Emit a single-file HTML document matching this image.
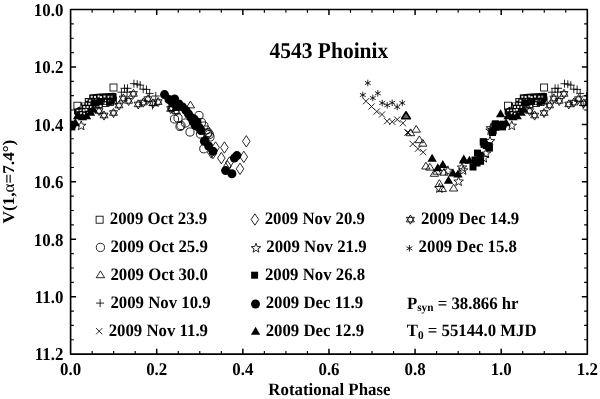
<!DOCTYPE html><html><head><meta charset="utf-8"><style>
html,body{margin:0;padding:0;background:#fff;width:600px;height:399px;overflow:hidden}
svg{display:block;will-change:transform}
text{font-family:"Liberation Serif", serif;font-weight:bold;fill:#000;text-rendering:geometricPrecision}
.o{fill:none;stroke:#000;stroke-width:0.85}
.f{fill:#000;stroke:none}
.ax{fill:none;stroke:#000;stroke-width:1.65;stroke-linejoin:round}
.tk{stroke:#000;stroke-width:1.5}
</style></head><body>
<svg width="600" height="399" viewBox="0 0 600 399">
<defs><clipPath id="cp"><rect x="70.60" y="9.50" width="516.72" height="344.64"/></clipPath></defs>
<g clip-path="url(#cp)">
<path d="M74.0 108.5L76.0 108.5L80.5 106.0L81.0 102.4L85.2 102.4L85.2 98.4L89.2 98.4L89.2 94.4L100.0 93.6L113.7 92.8L116.5 93.2L116.5 100.0L114.0 104.0L110.0 105.2L101.6 104.8L95.2 107.2L91.2 112.0L88.0 116.0L76.0 116.0L74.0 114.0Z" fill="#000"/>
<rect x="90.7" y="95.8" width="2" height="2" fill="#e8e8e8"/>
<rect x="94.0" y="95.9" width="2" height="2" fill="#e8e8e8"/>
<rect x="97.6" y="95.4" width="2" height="2" fill="#e8e8e8"/>
<rect x="100.0" y="96.1" width="2" height="2" fill="#e8e8e8"/>
<rect x="103.5" y="95.5" width="2" height="2" fill="#e8e8e8"/>
<rect x="107.6" y="95.8" width="2" height="2" fill="#e8e8e8"/>
<rect x="110.6" y="95.8" width="2" height="2" fill="#e8e8e8"/>
<rect x="85.6" y="98.9" width="2" height="2" fill="#e8e8e8"/>
<rect x="88.8" y="99.6" width="2" height="2" fill="#e8e8e8"/>
<rect x="91.8" y="99.4" width="2" height="2" fill="#e8e8e8"/>
<rect x="95.2" y="98.8" width="2" height="2" fill="#e8e8e8"/>
<rect x="98.5" y="99.3" width="2" height="2" fill="#e8e8e8"/>
<rect x="101.2" y="98.7" width="2" height="2" fill="#e8e8e8"/>
<rect x="105.0" y="99.2" width="2" height="2" fill="#e8e8e8"/>
<rect x="108.1" y="99.6" width="2" height="2" fill="#e8e8e8"/>
<rect x="82.3" y="102.8" width="2" height="2" fill="#e8e8e8"/>
<rect x="85.1" y="102.7" width="2" height="2" fill="#e8e8e8"/>
<rect x="88.3" y="102.8" width="2" height="2" fill="#e8e8e8"/>
<rect x="92.1" y="102.0" width="2" height="2" fill="#e8e8e8"/>
<rect x="94.4" y="102.1" width="2" height="2" fill="#e8e8e8"/>
<rect x="98.6" y="102.3" width="2" height="2" fill="#e8e8e8"/>
<rect x="101.4" y="102.2" width="2" height="2" fill="#e8e8e8"/>
<rect x="104.4" y="102.3" width="2" height="2" fill="#e8e8e8"/>
<rect x="79.8" y="105.7" width="2" height="2" fill="#e8e8e8"/>
<rect x="83.3" y="106.0" width="2" height="2" fill="#e8e8e8"/>
<rect x="86.6" y="106.0" width="2" height="2" fill="#e8e8e8"/>
<rect x="90.0" y="106.1" width="2" height="2" fill="#e8e8e8"/>
<rect x="93.0" y="105.3" width="2" height="2" fill="#e8e8e8"/>
<rect x="96.4" y="106.1" width="2" height="2" fill="#e8e8e8"/>
<rect x="76.5" y="109.3" width="2" height="2" fill="#e8e8e8"/>
<rect x="79.5" y="108.9" width="2" height="2" fill="#e8e8e8"/>
<rect x="82.8" y="109.3" width="2" height="2" fill="#e8e8e8"/>
<rect x="85.3" y="108.8" width="2" height="2" fill="#e8e8e8"/>
<rect x="89.2" y="109.7" width="2" height="2" fill="#e8e8e8"/>
<rect x="76.5" y="112.8" width="2" height="2" fill="#e8e8e8"/>
<rect x="80.1" y="112.2" width="2" height="2" fill="#e8e8e8"/>
<rect x="83.2" y="112.8" width="2" height="2" fill="#e8e8e8"/>
<rect x="87.0" y="112.0" width="2" height="2" fill="#e8e8e8"/>
<path d="M504.6 108.5L506.6 108.5L511.1 106.0L511.6 102.4L515.8 102.4L515.8 98.4L519.8 98.4L519.8 94.4L530.6 93.6L544.3 92.8L547.1 93.2L547.1 100.0L544.6 104.0L540.6 105.2L532.2 104.8L525.8 107.2L521.8 112.0L518.6 116.0L506.6 116.0L504.6 114.0Z" fill="#000"/>
<rect x="521.3" y="95.8" width="2" height="2" fill="#e8e8e8"/>
<rect x="524.6" y="95.9" width="2" height="2" fill="#e8e8e8"/>
<rect x="528.2" y="95.4" width="2" height="2" fill="#e8e8e8"/>
<rect x="530.6" y="96.1" width="2" height="2" fill="#e8e8e8"/>
<rect x="534.1" y="95.5" width="2" height="2" fill="#e8e8e8"/>
<rect x="538.2" y="95.8" width="2" height="2" fill="#e8e8e8"/>
<rect x="541.2" y="95.8" width="2" height="2" fill="#e8e8e8"/>
<rect x="516.2" y="98.9" width="2" height="2" fill="#e8e8e8"/>
<rect x="519.4" y="99.6" width="2" height="2" fill="#e8e8e8"/>
<rect x="522.4" y="99.4" width="2" height="2" fill="#e8e8e8"/>
<rect x="525.8" y="98.8" width="2" height="2" fill="#e8e8e8"/>
<rect x="529.1" y="99.3" width="2" height="2" fill="#e8e8e8"/>
<rect x="531.8" y="98.7" width="2" height="2" fill="#e8e8e8"/>
<rect x="535.6" y="99.2" width="2" height="2" fill="#e8e8e8"/>
<rect x="538.7" y="99.6" width="2" height="2" fill="#e8e8e8"/>
<rect x="512.9" y="102.8" width="2" height="2" fill="#e8e8e8"/>
<rect x="515.7" y="102.7" width="2" height="2" fill="#e8e8e8"/>
<rect x="518.9" y="102.8" width="2" height="2" fill="#e8e8e8"/>
<rect x="522.7" y="102.0" width="2" height="2" fill="#e8e8e8"/>
<rect x="525.0" y="102.1" width="2" height="2" fill="#e8e8e8"/>
<rect x="529.2" y="102.3" width="2" height="2" fill="#e8e8e8"/>
<rect x="532.0" y="102.2" width="2" height="2" fill="#e8e8e8"/>
<rect x="535.0" y="102.3" width="2" height="2" fill="#e8e8e8"/>
<rect x="510.4" y="105.7" width="2" height="2" fill="#e8e8e8"/>
<rect x="513.9" y="106.0" width="2" height="2" fill="#e8e8e8"/>
<rect x="517.2" y="106.0" width="2" height="2" fill="#e8e8e8"/>
<rect x="520.6" y="106.1" width="2" height="2" fill="#e8e8e8"/>
<rect x="523.6" y="105.3" width="2" height="2" fill="#e8e8e8"/>
<rect x="527.0" y="106.1" width="2" height="2" fill="#e8e8e8"/>
<rect x="507.1" y="109.3" width="2" height="2" fill="#e8e8e8"/>
<rect x="510.1" y="108.9" width="2" height="2" fill="#e8e8e8"/>
<rect x="513.4" y="109.3" width="2" height="2" fill="#e8e8e8"/>
<rect x="515.9" y="108.8" width="2" height="2" fill="#e8e8e8"/>
<rect x="519.8" y="109.7" width="2" height="2" fill="#e8e8e8"/>
<rect x="507.1" y="112.8" width="2" height="2" fill="#e8e8e8"/>
<rect x="510.7" y="112.2" width="2" height="2" fill="#e8e8e8"/>
<rect x="513.8" y="112.8" width="2" height="2" fill="#e8e8e8"/>
<rect x="517.6" y="112.0" width="2" height="2" fill="#e8e8e8"/>
<rect x="110.0" y="84.0" width="7.0" height="7.0" class="o"/>
<rect x="540.6" y="84.0" width="7.0" height="7.0" class="o"/>
<rect x="73.9" y="102.2" width="7.0" height="7.0" class="o"/>
<rect x="504.5" y="102.2" width="7.0" height="7.0" class="o"/>
<rect x="106.5" y="98.5" width="7.0" height="7.0" class="o"/>
<rect x="537.1" y="98.5" width="7.0" height="7.0" class="o"/>
<rect x="109.5" y="97.0" width="7.0" height="7.0" class="o"/>
<rect x="540.1" y="97.0" width="7.0" height="7.0" class="o"/>
<rect x="102.0" y="99.5" width="7.0" height="7.0" class="o"/>
<rect x="532.6" y="99.5" width="7.0" height="7.0" class="o"/>
<rect x="95.5" y="100.5" width="7.0" height="7.0" class="o"/>
<rect x="526.1" y="100.5" width="7.0" height="7.0" class="o"/>
<rect x="85.2" y="98.5" width="7.0" height="7.0" class="o"/>
<rect x="515.8" y="98.5" width="7.0" height="7.0" class="o"/>
<path d="M120.5 88.3H128.5M124.5 84.3V92.3" class="o"/>
<path d="M551.1 88.3H559.1M555.1 84.3V92.3" class="o"/>
<path d="M123.5 88.3H131.5M127.5 84.3V92.3" class="o"/>
<path d="M554.1 88.3H562.1M558.1 84.3V92.3" class="o"/>
<path d="M117.4 92.2H125.4M121.4 88.2V96.2" class="o"/>
<path d="M548.0 92.2H556.0M552.0 88.2V96.2" class="o"/>
<path d="M123.0 92.2H131.0M127.0 88.2V96.2" class="o"/>
<path d="M553.6 92.2H561.6M557.6 88.2V96.2" class="o"/>
<path d="M129.9 83.7H137.9M133.9 79.7V87.7" class="o"/>
<path d="M560.5 83.7H568.5M564.5 79.7V87.7" class="o"/>
<path d="M133.2 84.2H141.2M137.2 80.2V88.2" class="o"/>
<path d="M563.8 84.2H571.8M567.8 80.2V88.2" class="o"/>
<path d="M136.2 85.1H144.2M140.2 81.1V89.1" class="o"/>
<path d="M566.8 85.1H574.8M570.8 81.1V89.1" class="o"/>
<path d="M139.2 89.2H147.2M143.2 85.2V93.2" class="o"/>
<path d="M569.8 89.2H577.8M573.8 85.2V93.2" class="o"/>
<path d="M142.5 89.4H150.5M146.5 85.4V93.4" class="o"/>
<path d="M573.1 89.4H581.1M577.1 85.4V93.4" class="o"/>
<path d="M145.6 93.4H153.6M149.6 89.4V97.4" class="o"/>
<path d="M576.2 93.4H584.2M580.2 89.4V97.4" class="o"/>
<path d="M148.6 105.5H156.6M152.6 101.5V109.5" class="o"/>
<path d="M579.2 105.5H587.2M583.2 101.5V109.5" class="o"/>
<path d="M151.8 96.0H159.8M155.8 92.0V100.0" class="o"/>
<path d="M582.4 96.0H590.4M586.4 92.0V100.0" class="o"/>
<path d="M99.0 106.4L103.0 113.3L95.0 113.3ZM99.0 115.6L95.0 108.7L103.0 108.7Z" class="o"/>
<path d="M529.6 106.4L533.6 113.3L525.6 113.3ZM529.6 115.6L525.6 108.7L533.6 108.7Z" class="o"/>
<path d="M104.0 110.9L108.0 117.8L100.0 117.8ZM104.0 120.1L100.0 113.2L108.0 113.2Z" class="o"/>
<path d="M534.6 110.9L538.6 117.8L530.6 117.8ZM534.6 120.1L530.6 113.2L538.6 113.2Z" class="o"/>
<path d="M113.5 108.4L117.5 115.3L109.5 115.3ZM113.5 117.6L109.5 110.7L117.5 110.7Z" class="o"/>
<path d="M544.1 108.4L548.1 115.3L540.1 115.3ZM544.1 117.6L540.1 110.7L548.1 110.7Z" class="o"/>
<path d="M119.0 100.9L123.0 107.8L115.0 107.8ZM119.0 110.1L115.0 103.2L123.0 103.2Z" class="o"/>
<path d="M549.6 100.9L553.6 107.8L545.6 107.8ZM549.6 110.1L545.6 103.2L553.6 103.2Z" class="o"/>
<path d="M123.3 93.9L127.3 100.8L119.3 100.8ZM123.3 103.1L119.3 96.2L127.3 96.2Z" class="o"/>
<path d="M553.9 93.9L557.9 100.8L549.9 100.8ZM553.9 103.1L549.9 96.2L557.9 96.2Z" class="o"/>
<path d="M128.6 96.3L132.6 103.2L124.6 103.2ZM128.6 105.5L124.6 98.6L132.6 98.6Z" class="o"/>
<path d="M559.2 96.3L563.2 103.2L555.2 103.2ZM559.2 105.5L555.2 98.6L563.2 98.6Z" class="o"/>
<path d="M133.4 89.3L137.4 96.2L129.4 96.2ZM133.4 98.5L129.4 91.6L137.4 91.6Z" class="o"/>
<path d="M564.0 89.3L568.0 96.2L560.0 96.2ZM564.0 98.5L560.0 91.6L568.0 91.6Z" class="o"/>
<path d="M138.2 99.8L142.2 106.7L134.2 106.7ZM138.2 109.0L134.2 102.1L142.2 102.1Z" class="o"/>
<path d="M568.8 99.8L572.8 106.7L564.8 106.7ZM568.8 109.0L564.8 102.1L572.8 102.1Z" class="o"/>
<path d="M143.3 98.0L147.3 104.9L139.3 104.9ZM143.3 107.2L139.3 100.3L147.3 100.3Z" class="o"/>
<path d="M573.9 98.0L577.9 104.9L569.9 104.9ZM573.9 107.2L569.9 100.3L577.9 100.3Z" class="o"/>
<path d="M147.9 94.5L151.9 101.4L143.9 101.4ZM147.9 103.7L143.9 96.8L151.9 96.8Z" class="o"/>
<path d="M578.5 94.5L582.5 101.4L574.5 101.4ZM578.5 103.7L574.5 96.8L582.5 96.8Z" class="o"/>
<path d="M153.0 98.8L157.0 105.7L149.0 105.7ZM153.0 108.0L149.0 101.1L157.0 101.1Z" class="o"/>
<path d="M583.6 98.8L587.6 105.7L579.6 105.7ZM583.6 108.0L579.6 101.1L587.6 101.1Z" class="o"/>
<path d="M158.1 97.5L162.1 104.4L154.1 104.4ZM158.1 106.7L154.1 99.8L162.1 99.8Z" class="o"/>
<path d="M588.7 97.5L592.7 104.4L584.7 104.4ZM588.7 106.7L584.7 99.8L592.7 99.8Z" class="o"/>
<path d="M171.9 103.6L175.9 110.5L167.9 110.5ZM171.9 112.8L167.9 105.9L175.9 105.9Z" class="o"/>
<path d="M176.3 106.7L180.3 113.6L172.3 113.6ZM176.3 115.9L172.3 109.0L180.3 109.0Z" class="o"/>
<path d="M170.7 104.4L174.7 111.3L166.7 111.3ZM170.7 113.6L166.7 106.7L174.7 106.7Z" class="o"/>
<path d="M81.2 120.8L82.4 124.1L86.0 124.3L83.2 126.4L84.1 129.8L81.2 127.9L78.3 129.8L79.2 126.4L76.4 124.3L80.0 124.1Z" class="o"/>
<path d="M511.8 120.8L513.0 124.1L516.6 124.3L513.8 126.4L514.7 129.8L511.8 127.9L508.9 129.8L509.8 126.4L507.0 124.3L510.6 124.1Z" class="o"/>
<path d="M447.9 165.9L449.1 169.2L452.7 169.4L449.9 171.5L450.8 174.9L447.9 173.0L445.0 174.9L445.9 171.5L443.1 169.4L446.7 169.2Z" class="o"/>
<path d="M458.6 176.6L459.8 179.9L463.4 180.1L460.6 182.2L461.5 185.6L458.6 183.7L455.7 185.6L456.6 182.2L453.8 180.1L457.4 179.9Z" class="o"/>
<path d="M439.4 183.4L440.6 186.7L444.2 186.9L441.4 189.0L442.3 192.4L439.4 190.5L436.5 192.4L437.4 189.0L434.6 186.9L438.2 186.7Z" class="o"/>
<path d="M463.1 165.4L464.3 168.7L467.9 168.9L465.1 171.0L466.0 174.4L463.1 172.5L460.2 174.4L461.1 171.0L458.3 168.9L461.9 168.7Z" class="o"/>
<path d="M490.0 136.2L491.2 139.5L494.8 139.7L492.0 141.8L492.9 145.2L490.0 143.3L487.1 145.2L488.0 141.8L485.2 139.7L488.8 139.5Z" class="o"/>
<path d="M490.6 125.6L491.8 128.9L495.4 129.1L492.6 131.2L493.5 134.6L490.6 132.7L487.7 134.6L488.6 131.2L485.8 129.1L489.4 128.9Z" class="o"/>
<path d="M483.8 153.1L485.0 156.4L488.6 156.6L485.8 158.7L486.7 162.1L483.8 160.2L480.9 162.1L481.8 158.7L479.0 156.6L482.6 156.4Z" class="o"/>
<path d="M491.0 123.3L492.2 126.6L495.8 126.8L493.0 128.9L493.9 132.3L491.0 130.4L488.1 132.3L489.0 128.9L486.2 126.8L489.8 126.6Z" class="o"/>
<path d="M485.9 148.7L487.1 152.0L490.7 152.2L487.9 154.3L488.8 157.7L485.9 155.8L483.0 157.7L483.9 154.3L481.1 152.2L484.7 152.0Z" class="o"/>
<path d="M462.0 162.6L463.2 165.9L466.8 166.1L464.0 168.2L464.9 171.6L462.0 169.7L459.1 171.6L460.0 168.2L457.2 166.1L460.8 165.9Z" class="o"/>
<path d="M77.5 111.3L82.2 119.3H72.8Z" class="f"/>
<path d="M508.1 111.3L512.8 119.3H503.4Z" class="f"/>
<path d="M82.5 112.3L87.2 120.3H77.8Z" class="f"/>
<path d="M513.1 112.3L517.8 120.3H508.4Z" class="f"/>
<path d="M86.5 111.3L91.2 119.3H81.8Z" class="f"/>
<path d="M517.1 111.3L521.8 119.3H512.4Z" class="f"/>
<path d="M90.5 107.8L95.2 115.8H85.8Z" class="f"/>
<path d="M521.1 107.8L525.8 115.8H516.4Z" class="f"/>
<path d="M93.0 104.8L97.7 112.8H88.3Z" class="f"/>
<path d="M523.6 104.8L528.3 112.8H518.9Z" class="f"/>
<path d="M432.1 153.7L436.8 161.7H427.4Z" class="f"/>
<path d="M442.8 159.9L447.5 167.9H438.1Z" class="f"/>
<path d="M437.8 163.3L442.5 171.3H433.1Z" class="f"/>
<path d="M448.5 175.7L453.2 183.7H443.8Z" class="f"/>
<path d="M453.0 168.4L457.7 176.4H448.3Z" class="f"/>
<path d="M458.0 169.5L462.7 177.5H453.3Z" class="f"/>
<path d="M463.7 155.4L468.4 163.4H459.0Z" class="f"/>
<path d="M469.4 155.8L474.1 163.8H464.7Z" class="f"/>
<path d="M463.8 154.6L468.5 162.6H459.1Z" class="f"/>
<path d="M500.6 109.2L505.3 117.2H495.9Z" class="f"/>
<path d="M506.0 118.3L510.7 126.3H501.3Z" class="f"/>
<path d="M75.4 118.3L80.1 126.3H70.7Z" class="f"/>
<circle cx="164.5" cy="94.6" r="4.5" class="f"/>
<circle cx="169.0" cy="99.5" r="4.5" class="f"/>
<circle cx="174.6" cy="99.0" r="4.5" class="f"/>
<circle cx="179.0" cy="103.9" r="4.5" class="f"/>
<circle cx="182.5" cy="106.9" r="4.5" class="f"/>
<circle cx="186.0" cy="110.5" r="4.5" class="f"/>
<circle cx="188.5" cy="114.0" r="4.5" class="f"/>
<circle cx="191.0" cy="117.5" r="4.5" class="f"/>
<circle cx="172.5" cy="103.0" r="4.5" class="f"/>
<circle cx="177.0" cy="106.5" r="4.5" class="f"/>
<circle cx="194.0" cy="119.0" r="4.5" class="f"/>
<circle cx="197.0" cy="126.0" r="4.5" class="f"/>
<circle cx="193.0" cy="121.0" r="4.5" class="f"/>
<circle cx="197.0" cy="122.0" r="4.5" class="f"/>
<circle cx="195.0" cy="125.0" r="4.5" class="f"/>
<circle cx="199.0" cy="127.5" r="4.5" class="f"/>
<circle cx="201.0" cy="130.5" r="4.5" class="f"/>
<circle cx="205.0" cy="140.7" r="4.5" class="f"/>
<circle cx="208.6" cy="146.0" r="4.5" class="f"/>
<circle cx="213.0" cy="151.2" r="4.5" class="f"/>
<circle cx="204.4" cy="141.3" r="4.5" class="f"/>
<circle cx="236.9" cy="155.6" r="4.5" class="f"/>
<circle cx="234.4" cy="158.1" r="4.5" class="f"/>
<circle cx="225.6" cy="170.6" r="4.5" class="f"/>
<circle cx="231.9" cy="173.8" r="4.5" class="f"/>
<path d="M190.4 101.1L194.6 107.9H186.2Z" class="o"/>
<path d="M416.2 125.4L420.4 132.2H412.0Z" class="o"/>
<path d="M410.5 128.9L414.7 135.7H406.3Z" class="o"/>
<path d="M419.3 135.9L423.5 142.7H415.1Z" class="o"/>
<path d="M422.8 139.4L427.0 146.2H418.6Z" class="o"/>
<path d="M425.9 162.2L430.1 169.0H421.7Z" class="o"/>
<path d="M429.9 163.3L434.1 170.1H425.7Z" class="o"/>
<path d="M434.4 169.5L438.6 176.3H430.2Z" class="o"/>
<path d="M439.4 179.7L443.6 186.5H435.2Z" class="o"/>
<path d="M442.3 184.8L446.5 191.6H438.1Z" class="o"/>
<path d="M453.6 184.2L457.8 191.0H449.4Z" class="o"/>
<path d="M444.0 168.4L448.2 175.2H439.8Z" class="o"/>
<path d="M437.0 167.4L441.2 174.2H432.8Z" class="o"/>
<circle cx="174.5" cy="119.0" r="4.1" class="o"/>
<circle cx="178.0" cy="118.0" r="4.1" class="o"/>
<circle cx="181.0" cy="125.5" r="4.1" class="o"/>
<circle cx="180.0" cy="126.5" r="4.1" class="o"/>
<circle cx="190.0" cy="132.0" r="4.1" class="o"/>
<circle cx="199.0" cy="115.5" r="4.1" class="o"/>
<circle cx="201.5" cy="122.5" r="4.1" class="o"/>
<circle cx="204.0" cy="126.0" r="4.1" class="o"/>
<circle cx="206.0" cy="130.0" r="4.1" class="o"/>
<circle cx="208.0" cy="132.5" r="4.1" class="o"/>
<circle cx="200.5" cy="134.0" r="4.1" class="o"/>
<circle cx="185.5" cy="123.0" r="4.1" class="o"/>
<circle cx="203.8" cy="148.8" r="4.1" class="o"/>
<circle cx="207.5" cy="133.8" r="4.1" class="o"/>
<circle cx="209.3" cy="134.5" r="4.1" class="o"/>
<circle cx="210.0" cy="137.0" r="4.1" class="o"/>
<path d="M215.6 141.8L219.4 147.5L215.6 153.2L211.8 147.5Z" class="o"/>
<path d="M224.4 141.8L228.2 147.5L224.4 153.2L220.6 147.5Z" class="o"/>
<path d="M221.3 152.4L225.1 158.1L221.3 163.8L217.5 158.1Z" class="o"/>
<path d="M211.3 146.8L215.1 152.5L211.3 158.2L207.5 152.5Z" class="o"/>
<path d="M246.3 135.6L250.1 141.3L246.3 147.0L242.5 141.3Z" class="o"/>
<path d="M243.8 151.2L247.6 156.9L243.8 162.6L240.0 156.9Z" class="o"/>
<path d="M240.0 163.1L243.8 168.8L240.0 174.5L236.2 168.8Z" class="o"/>
<path d="M229.4 156.8L233.2 162.5L229.4 168.2L225.6 162.5Z" class="o"/>
<path d="M227.5 160.6L231.3 166.3L227.5 172.0L223.7 166.3Z" class="o"/>
<path d="M213.0 147.3L216.8 153.0L213.0 158.7L209.2 153.0Z" class="o"/>
<rect x="96.5" y="98.0" width="7.0" height="7.0" class="f"/>
<rect x="527.1" y="98.0" width="7.0" height="7.0" class="f"/>
<rect x="91.5" y="99.5" width="7.0" height="7.0" class="f"/>
<rect x="522.1" y="99.5" width="7.0" height="7.0" class="f"/>
<rect x="491.5" y="121.5" width="7.0" height="7.0" class="f"/>
<rect x="495.3" y="120.9" width="7.0" height="7.0" class="f"/>
<rect x="499.0" y="123.4" width="7.0" height="7.0" class="f"/>
<rect x="68.4" y="123.4" width="7.0" height="7.0" class="f"/>
<rect x="489.0" y="129.0" width="7.0" height="7.0" class="f"/>
<rect x="480.3" y="138.4" width="7.0" height="7.0" class="f"/>
<rect x="485.9" y="144.6" width="7.0" height="7.0" class="f"/>
<rect x="482.8" y="142.1" width="7.0" height="7.0" class="f"/>
<rect x="474.0" y="149.6" width="7.0" height="7.0" class="f"/>
<rect x="476.5" y="152.1" width="7.0" height="7.0" class="f"/>
<rect x="471.5" y="156.5" width="7.0" height="7.0" class="f"/>
<rect x="477.1" y="157.8" width="7.0" height="7.0" class="f"/>
<rect x="491.9" y="120.3" width="7.0" height="7.0" class="f"/>
<rect x="495.9" y="121.6" width="7.0" height="7.0" class="f"/>
<rect x="499.8" y="120.7" width="7.0" height="7.0" class="f"/>
<rect x="69.2" y="120.7" width="7.0" height="7.0" class="f"/>
<rect x="492.4" y="123.8" width="7.0" height="7.0" class="f"/>
<rect x="488.9" y="129.0" width="7.0" height="7.0" class="f"/>
<rect x="489.7" y="127.3" width="7.0" height="7.0" class="f"/>
<rect x="479.7" y="138.3" width="7.0" height="7.0" class="f"/>
<rect x="484.9" y="142.2" width="7.0" height="7.0" class="f"/>
<rect x="480.5" y="140.9" width="7.0" height="7.0" class="f"/>
<rect x="469.5" y="163.5" width="7.0" height="7.0" class="f"/>
<rect x="473.5" y="159.5" width="7.0" height="7.0" class="f"/>
<path d="M367.8 79.7L367.8 86.3M370.7 81.3L364.9 84.7M370.7 84.7L364.9 81.3" class="o"/>
<path d="M362.8 91.7L362.8 98.3M365.7 93.3L359.9 96.7M365.7 96.7L359.9 93.3" class="o"/>
<path d="M372.8 94.7L372.8 101.3M375.7 96.3L369.9 99.7M375.7 99.7L369.9 96.3" class="o"/>
<path d="M377.8 90.0L377.8 96.6M380.7 91.6L374.9 95.0M380.7 95.0L374.9 91.6" class="o"/>
<path d="M382.2 99.7L382.2 106.3M385.1 101.3L379.3 104.7M385.1 104.7L379.3 101.3" class="o"/>
<path d="M387.2 101.9L387.2 108.5M390.1 103.5L384.3 106.9M390.1 106.9L384.3 103.5" class="o"/>
<path d="M392.2 99.5L392.2 106.1M395.1 101.1L389.3 104.5M395.1 104.5L389.3 101.1" class="o"/>
<path d="M397.2 103.7L397.2 110.3M400.1 105.3L394.3 108.7M400.1 108.7L394.3 105.3" class="o"/>
<path d="M402.3 99.7L402.3 106.3M405.2 101.3L399.4 104.7M405.2 104.7L399.4 101.3" class="o"/>
<path d="M362.9 98.1L369.1 104.3M362.9 104.3L369.1 98.1" class="o"/>
<path d="M368.4 103.4L374.6 109.6M368.4 109.6L374.6 103.4" class="o"/>
<path d="M373.7 108.4L379.9 114.6M373.7 114.6L379.9 108.4" class="o"/>
<path d="M378.9 111.4L385.1 117.6M378.9 117.6L385.1 111.4" class="o"/>
<path d="M384.0 118.1L390.2 124.3M384.0 124.3L390.2 118.1" class="o"/>
<path d="M389.1 118.7L395.3 124.9M389.1 124.9L395.3 118.7" class="o"/>
<path d="M394.1 116.4L400.3 122.6M394.1 122.6L400.3 116.4" class="o"/>
<path d="M399.8 120.1L406.0 126.3M399.8 126.3L406.0 120.1" class="o"/>
<path d="M405.1 129.4L411.3 135.6M405.1 135.6L411.3 129.4" class="o"/>
<path d="M404.4 129.4L410.6 135.6M404.4 135.6L410.6 129.4" class="o"/>
<path d="M409.6 140.8L415.8 147.0M409.6 147.0L415.8 140.8" class="o"/>
<path d="M414.9 145.6L421.1 151.8M414.9 151.8L421.1 145.6" class="o"/>
<path d="M420.1 149.1L426.3 155.3M420.1 155.3L426.3 149.1" class="o"/>
<path d="M406.0 111.8L410.4 118.8H401.6Z" fill="#666" stroke="#000" stroke-width="1.6" stroke-linejoin="round"/>
</g>
<path d="M156.72 354.14V348.64M156.72 9.50V15.00M242.84 354.14V348.64M242.84 9.50V15.00M328.96 354.14V348.64M328.96 9.50V15.00M415.08 354.14V348.64M415.08 9.50V15.00M501.20 354.14V348.64M501.20 9.50V15.00M70.60 66.94H76.10M587.32 66.94H581.82M70.60 124.38H76.10M587.32 124.38H581.82M70.60 181.82H76.10M587.32 181.82H581.82M70.60 239.26H76.10M587.32 239.26H581.82M70.60 296.70H76.10M587.32 296.70H581.82" stroke="#000" stroke-width="1.5"/>
<path d="M92.13 354.14V350.94M92.13 9.50V12.70M113.66 354.14V350.94M113.66 9.50V12.70M135.19 354.14V350.94M135.19 9.50V12.70M178.25 354.14V350.94M178.25 9.50V12.70M199.78 354.14V350.94M199.78 9.50V12.70M221.31 354.14V350.94M221.31 9.50V12.70M264.37 354.14V350.94M264.37 9.50V12.70M285.90 354.14V350.94M285.90 9.50V12.70M307.43 354.14V350.94M307.43 9.50V12.70M350.49 354.14V350.94M350.49 9.50V12.70M372.02 354.14V350.94M372.02 9.50V12.70M393.55 354.14V350.94M393.55 9.50V12.70M436.61 354.14V350.94M436.61 9.50V12.70M458.14 354.14V350.94M458.14 9.50V12.70M479.67 354.14V350.94M479.67 9.50V12.70M522.73 354.14V350.94M522.73 9.50V12.70M544.26 354.14V350.94M544.26 9.50V12.70M565.79 354.14V350.94M565.79 9.50V12.70M70.60 23.86H73.80M587.32 23.86H584.12M70.60 38.22H73.80M587.32 38.22H584.12M70.60 52.58H73.80M587.32 52.58H584.12M70.60 81.30H73.80M587.32 81.30H584.12M70.60 95.66H73.80M587.32 95.66H584.12M70.60 110.02H73.80M587.32 110.02H584.12M70.60 138.74H73.80M587.32 138.74H584.12M70.60 153.10H73.80M587.32 153.10H584.12M70.60 167.46H73.80M587.32 167.46H584.12M70.60 196.18H73.80M587.32 196.18H584.12M70.60 210.54H73.80M587.32 210.54H584.12M70.60 224.90H73.80M587.32 224.90H584.12M70.60 253.62H73.80M587.32 253.62H584.12M70.60 267.98H73.80M587.32 267.98H584.12M70.60 282.34H73.80M587.32 282.34H584.12M70.60 311.06H73.80M587.32 311.06H584.12M70.60 325.42H73.80M587.32 325.42H584.12M70.60 339.78H73.80M587.32 339.78H584.12" stroke="#000" stroke-width="1.15"/>
<rect x="70.60" y="9.50" width="516.72" height="344.64" class="ax"/>
<text transform="translate(70.6 374.6) scale(1 1.06)" font-size="16.9" text-anchor="middle">0.0</text>
<text transform="translate(156.7 374.6) scale(1 1.06)" font-size="16.9" text-anchor="middle">0.2</text>
<text transform="translate(242.8 374.6) scale(1 1.06)" font-size="16.9" text-anchor="middle">0.4</text>
<text transform="translate(329.0 374.6) scale(1 1.06)" font-size="16.9" text-anchor="middle">0.6</text>
<text transform="translate(415.1 374.6) scale(1 1.06)" font-size="16.9" text-anchor="middle">0.8</text>
<text transform="translate(501.2 374.6) scale(1 1.06)" font-size="16.9" text-anchor="middle">1.0</text>
<text transform="translate(587.3 374.6) scale(1 1.06)" font-size="16.9" text-anchor="middle">1.2</text>
<text transform="translate(63.4 15.8) scale(1 1.07)" font-size="16.9" text-anchor="end">10.0</text>
<text transform="translate(63.4 73.2) scale(1 1.07)" font-size="16.9" text-anchor="end">10.2</text>
<text transform="translate(63.4 130.7) scale(1 1.07)" font-size="16.9" text-anchor="end">10.4</text>
<text transform="translate(63.4 188.1) scale(1 1.07)" font-size="16.9" text-anchor="end">10.6</text>
<text transform="translate(63.4 245.6) scale(1 1.07)" font-size="16.9" text-anchor="end">10.8</text>
<text transform="translate(63.4 303.0) scale(1 1.07)" font-size="16.9" text-anchor="end">11.0</text>
<text transform="translate(63.4 360.4) scale(1 1.07)" font-size="16.9" text-anchor="end">11.2</text>
<text transform="translate(329.4 395.1) scale(1 1.03)" font-size="16.85" text-anchor="middle">Rotational Phase</text>
<text transform="translate(14.4 181.6) rotate(-90) scale(1.04 1)" font-size="16.5" text-anchor="middle">V(1,<tspan font-weight="normal">α</tspan>=7.4°)</text>
<text transform="translate(328.85 58) scale(1 1.05)" font-size="21.5" text-anchor="middle">4543 Phoinix</text>
<rect x="96.1" y="216.2" width="7.0" height="7.0" class="o"/>
<text transform="translate(109.8 224.0) scale(1 1.035)" font-size="16.8">2009 Oct 23.9</text>
<circle cx="100.4" cy="247.4" r="4.1" class="o"/>
<text transform="translate(110.4 252.1) scale(1 1.035)" font-size="16.8">2009 Oct 25.9</text>
<path d="M100.4 270.9L104.6 277.7H96.2Z" class="o"/>
<text transform="translate(110.4 280.1) scale(1 1.035)" font-size="16.8">2009 Oct 30.0</text>
<path d="M96.1 303.1H104.1M100.1 299.1V307.1" class="o"/>
<text transform="translate(110.4 308.1) scale(1 1.035)" font-size="16.8">2009 Nov 10.9</text>
<path d="M96.1 328.1L102.3 334.3M96.1 334.3L102.3 328.1" class="o"/>
<text transform="translate(108.7 335.9) scale(1 1.035)" font-size="16.8">2009 Nov 11.9</text>
<path d="M254.9 213.8L258.7 219.5L254.9 225.2L251.1 219.5Z" class="o"/>
<text transform="translate(264.7 224.0) scale(1 1.035)" font-size="16.8">2009 Nov 20.9</text>
<path d="M256.0 243.2L257.2 246.5L260.8 246.7L258.0 248.8L258.9 252.2L256.0 250.3L253.1 252.2L254.0 248.8L251.2 246.7L254.8 246.5Z" class="o"/>
<text transform="translate(266.3 252.1) scale(1 1.035)" font-size="16.8">2009 Nov 21.9</text>
<rect x="251.1" y="271.7" width="7.0" height="7.0" class="f"/>
<text transform="translate(264.9 280.1) scale(1 1.035)" font-size="16.8">2009 Nov 26.8</text>
<circle cx="255.5" cy="304.0" r="4.5" class="f"/>
<text transform="translate(265.7 308.1) scale(1 1.035)" font-size="16.8">2009 Dec 11.9</text>
<path d="M255.6 326.8L260.3 334.8H250.9Z" class="f"/>
<text transform="translate(265.7 335.9) scale(1 1.035)" font-size="16.8">2009 Dec 12.9</text>
<path d="M410.4 215.0L414.4 221.9L406.4 221.9ZM410.4 224.2L406.4 217.3L414.4 217.3Z" class="o"/>
<text transform="translate(420.9 224.3) scale(1 1.035)" font-size="16.8">2009 Dec 14.9</text>
<path d="M409.4 245.0L409.4 251.6M412.3 246.7L406.5 250.0M412.3 250.0L406.5 246.7" class="o"/>
<text transform="translate(418.6 252.1) scale(1 1.035)" font-size="16.8">2009 Dec 15.8</text>
<text transform="translate(406.9 308.5) scale(1 1.035)" font-size="16.8">P<tspan font-size="11.3" dy="2.6">syn</tspan><tspan dy="-2.6"> = 38.866 hr</tspan></text>
<text transform="translate(406.7 336.2) scale(1 1.035)" font-size="16.8">T<tspan font-size="11.3" dy="2.6">0</tspan><tspan dy="-2.6"> = 55144.0 MJD</tspan></text>
</svg></body></html>
